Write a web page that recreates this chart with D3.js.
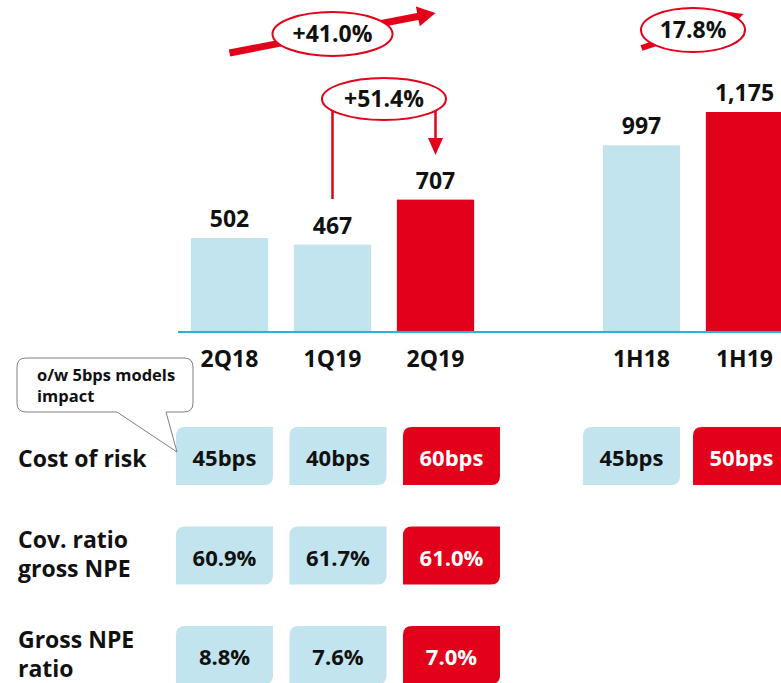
<!DOCTYPE html>
<html>
<head>
<meta charset="utf-8">
<script src="https://cdn.jsdelivr.net/npm/d3@7"></script>
<style>
  html, body { margin: 0; padding: 0; background: #fff; }
  svg { display: block; font-family: "Open Sans", "Noto Sans", sans-serif; font-weight: 700; }
</style>
</head>
<body>
<svg id="chart" width="781" height="683"></svg>
<script>
// ---------- data ----------
const categories = ["2Q18", "1Q19", "2Q19", "gap", "1H18", "1H19"];
const quarters   = ["2Q18", "1Q19", "2Q19"];
const halves     = ["1H18", "1H19"];
const barValues  = [502, 467, 707, null, 997, 1175];
const barLabels  = ["502", "467", "707", null, "997", "1,175"];
const highlight  = [false, false, true, false, false, true];

const rowLabels = [["Cost of risk"], ["Cov. ratio", "gross NPE"], ["Gross NPE", "ratio"]];
const costOfRisk = ["45bps", "40bps", "60bps", null, "45bps", "50bps"];
const covRatio   = ["60.9%", "61.7%", "61.0%", null, null, null];
const grossNpe   = ["8.8%", "7.6%", "7.0%", null, null, null];
const rowValues  = [costOfRisk, covRatio, grossNpe];

const growthQ    = "+41.0%";   // 2Q18 -> 2Q19
const growthQoQ  = "+51.4%";   // 1Q19 -> 2Q19
const growthH    = "17.8%";    // 1H18 -> 1H19
const calloutLines = ["o/w 5bps models", "impact"];

// ---------- styles ----------
const RED = "#e2001a", BLUE = "#c1e4ee", AXIS = "#29b3d6";
const svg = d3.select("#chart");

// ---------- scales ----------
const x = d3.scaleBand().domain(categories).range([178, 796]).paddingInner(0.25).paddingOuter(0.125);
const y = d3.scaleLinear().domain([0, 1175]).range([332, 112]);
// KPI boxes: one band scale per group
const xq = d3.scaleBand().domain(quarters).range([176, 500]).paddingInner(0.145).paddingOuter(0);
const xh = d3.scaleBand().domain(halves).range([583, 790]).paddingInner(0.118).paddingOuter(0);
const xb = c => quarters.includes(c) ? xq(c) : xh(c);
const bw = c => quarters.includes(c) ? xq.bandwidth() : xh.bandwidth();
const rowY = d3.scalePoint().domain(d3.range(rowLabels.length)).range([427, 626]);
const cx = c => x(c) + x.bandwidth() / 2;

const bars = categories.map((c, i) => ({c, v: barValues[i], label: barLabels[i], hi: highlight[i]})).filter(d => d.v != null);

// ---------- bars ----------
svg.append("g").selectAll("rect").data(bars).join("rect")
  .attr("x", d => x(d.c)).attr("width", x.bandwidth())
  .attr("y", d => y(d.v)).attr("height", d => y(0) - y(d.v))
  .attr("fill", d => d.hi ? RED : BLUE);

// axis baseline
svg.append("line").attr("x1", 178).attr("x2", 781).attr("y1", y(0)).attr("y2", y(0))
  .attr("stroke", AXIS).attr("stroke-width", 2);

// value labels
svg.append("g").selectAll("text").data(bars).join("text")
  .attr("x", d => cx(d.c)).attr("y", d => y(d.v) - 11)
  .attr("text-anchor", "middle").attr("font-size", 23).attr("fill", "#111")
  .text(d => d.label);

// category labels
svg.append("g").selectAll("text").data(bars).join("text")
  .attr("x", d => cx(d.c)).attr("y", 367)
  .attr("text-anchor", "middle").attr("font-size", 23).attr("fill", "#111")
  .text(d => d.c);

// ---------- arrows / ellipses ----------
function thickArrow(g, x1, y1, x2, y2, w, hl, hw) {
  const dx = x2 - x1, dy = y2 - y1, L = Math.hypot(dx, dy);
  const ux = dx / L, uy = dy / L, px = -uy, py = ux;
  const bx = x2 - ux * hl, by = y2 - uy * hl;
  g.append("line").attr("x1", x1).attr("y1", y1).attr("x2", bx + ux).attr("y2", by + uy)
    .attr("stroke", RED).attr("stroke-width", w);
  g.append("path").attr("fill", RED)
    .attr("d", `M${x2},${y2} L${bx + px * hw},${by + py * hw} L${bx - px * hw},${by - py * hw} Z`);
}
function badge(g, cxv, cyv, rx, ry, txt) {
  g.append("ellipse").attr("cx", cxv).attr("cy", cyv).attr("rx", rx).attr("ry", ry)
    .attr("fill", "#fff").attr("stroke", RED).attr("stroke-width", 2);
  g.append("text").attr("x", cxv).attr("y", cyv + 8).attr("text-anchor", "middle")
    .attr("font-size", 23).attr("fill", "#111").text(txt);
}

const ann = svg.append("g");
// +41.0%
{
  const x1 = cx("2Q18"), x2 = cx("2Q19");
  thickArrow(ann, x1, 53, x2, 13, 7, 18, 10);
  badge(ann, (x1 + x2) / 2, 34, 60, 22, growthQ);
}
// 17.8%
{
  const x1 = cx("1H18"), x2 = cx("1H19");
  thickArrow(ann, x1, 48, x2 - 1, 14, 6, 18, 9);
  badge(ann, (x1 + x2) / 2, 30, 52, 22, growthH);
}
// +51.4% bracket
{
  const x1 = cx("1Q19"), x2 = cx("2Q19");
  ann.append("line").attr("x1", x1).attr("x2", x1).attr("y1", 105).attr("y2", 199)
    .attr("stroke", RED).attr("stroke-width", 2.5);
  ann.append("line").attr("x1", x2).attr("x2", x2).attr("y1", 105).attr("y2", 140)
    .attr("stroke", RED).attr("stroke-width", 2.5);
  ann.append("path").attr("fill", RED)
    .attr("d", `M${x2},155 L${x2 - 7.5},138 L${x2 + 7.5},138 Z`);
  badge(ann, (x1 + x2) / 2, 99, 62, 21, growthQoQ);
}

// ---------- KPI rows ----------
function leaf(x0, y0, w, h, r) {
  return `M${x0},${y0 + r} Q${x0},${y0} ${x0 + r},${y0} H${x0 + w} V${y0 + h - r} Q${x0 + w},${y0 + h} ${x0 + w - r},${y0 + h} H${x0} Z`;
}
const BOX_H = 58;
rowValues.forEach((vals, ri) => {
  const top = rowY(ri);
  const g = svg.append("g");
  const items = categories.map((c, i) => ({c, v: vals[i], hi: highlight[i]})).filter(d => d.v != null);
  g.selectAll("path").data(items).join("path")
    .attr("d", d => leaf(xb(d.c), top, bw(d.c), BOX_H, 9))
    .attr("fill", d => d.hi ? RED : BLUE);
  g.selectAll("text").data(items).join("text")
    .attr("x", d => xb(d.c) + bw(d.c) / 2).attr("y", top + 39)
    .attr("text-anchor", "middle").attr("font-size", 22)
    .attr("fill", d => d.hi ? "#fff" : "#111").text(d => d.v);
  // row label
  const lines = rowLabels[ri];
  const lt = g.append("text").attr("x", 18).attr("font-size", 23).attr("fill", "#111");
  lines.forEach((ln, li) => {
    lt.append("tspan").attr("x", 18)
      .attr("y", lines.length === 1 ? top + 40 : top + 36 + (li - 0.5) * 29)
      .text(ln);
  });
});

// ---------- callout ----------
{
  const cg = svg.append("g");
  const tipX = xq("2Q18") + 1, tipY = 452;
  cg.append("path")
    .attr("d", `M26,358 H184 Q193,358 193,367 V403 Q193,412 184,412 H166 L${tipX},${tipY} L117,412 H26 Q17,412 17,403 V367 Q17,358 26,358 Z`)
    .attr("fill", "#fff").attr("stroke", "#808080").attr("stroke-width", 1);
  cg.selectAll("text").data(calloutLines).join("text")
    .attr("x", 37).attr("y", (d, i) => 381 + i * 21)
    .attr("font-size", 16.5).attr("fill", "#111").text(d => d);
}
</script>
</body>
</html>
